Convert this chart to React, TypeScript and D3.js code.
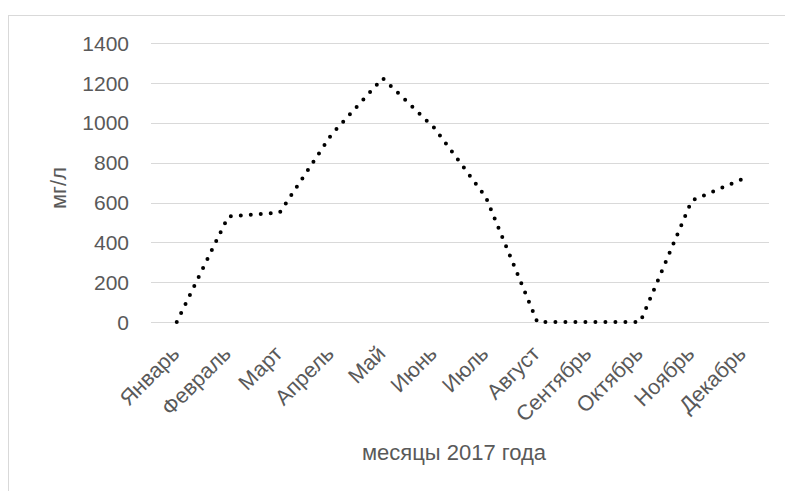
import React from "react";
import * as d3 from "d3";

const months = ["Январь","Февраль","Март","Апрель","Май","Июнь","Июль","Август","Сентябрь","Октябрь","Ноябрь","Декабрь"];
const values = [0, 530, 550, 940, 1225, 975, 628, 0, 0, 0, 610, 720];
const yTicks = [0, 200, 400, 600, 800, 1000, 1200, 1400];
const yTitle = "мг/л";
const xTitle = "месяцы 2017 года";

const W = 785, H = 491;
const plot = { left: 151, right: 769, top: 43.3, bottom: 322 };
const font = "'Liberation Sans', Arial, sans-serif";
const textColor = "#595959";

export default function App() {
  const x = d3.scaleBand<string>().domain(months).range([plot.left, plot.right]);
  const y = d3.scaleLinear().domain([0, 1400]).range([plot.bottom, plot.top]);
  const line = d3.line<number>()
    .x((_, i) => (x(months[i]) as number) + x.bandwidth() / 2)
    .y((d) => y(d));

  return (
    <svg width={W} height={H} style={{ position: "absolute", left: 0, top: 0, background: "#fff", display: "block" }}>
      <rect x={8.5} y={15.5} width={W + 20} height={H + 20} fill="#fff" stroke="#d9d9d9" strokeWidth={1} />
      {yTicks.map((t) => (
        <g key={t}>
          <line x1={plot.left} x2={plot.right} y1={Math.round(y(t)) + 0.5} y2={Math.round(y(t)) + 0.5} stroke="#d9d9d9" strokeWidth={1} />
          <text x={129} y={y(t)} dy="0.36em" textAnchor="end" fontFamily={font} fontSize={21} fill={textColor}>{t}</text>
        </g>
      ))}
      {months.map((m) => {
        const cx = (x(m) as number) + x.bandwidth() / 2;
        return (
          <text key={m} transform={`translate(${cx + 4},${355}) rotate(-45)`} textAnchor="end" fontFamily={font} fontSize={21.5} fill={textColor}>{m}</text>
        );
      })}
      <path d={line(values) || ""} fill="none" stroke="#000" strokeWidth={4} strokeLinecap="round" strokeDasharray="0 10" />
      <text transform={`translate(66,188) rotate(-90)`} textAnchor="middle" fontFamily={font} fontSize={22} fill={textColor}>{yTitle}</text>
      <text x={454} y={460} textAnchor="middle" fontFamily={font} fontSize={22} fill={textColor}>{xTitle}</text>
    </svg>
  );
}
